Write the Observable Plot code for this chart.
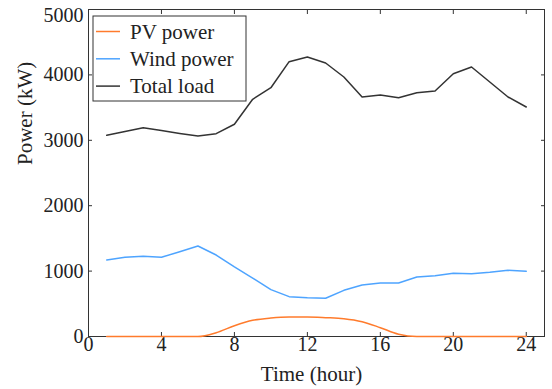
<!DOCTYPE html>
<html>
<head>
<meta charset="utf-8">
<script src="https://cdn.jsdelivr.net/npm/d3@7"></script>
<script src="https://cdn.jsdelivr.net/npm/@observablehq/plot@0.6"></script>
<style>
  body { margin: 0; background: #fff; }
  #chart { width: 552px; height: 389px; }
</style>
</head>
<body>
<div id="chart"></div>
<script>
// Hourly power profile over one day (kW)
const hours = [1, 2, 3, 4, 5, 6, 7, 8, 9, 10, 11, 12, 13, 14, 15, 16, 17, 18, 19, 20, 21, 22, 23, 24];
const pvPower = [0, 0, 0, 0, 0, 0, 58, 165, 248, 283, 298, 298, 288, 272, 226, 135, 34, 0, 0, 0, 0, 0, 0, 0];
const windPower = [1170, 1211, 1226, 1211, 1297, 1384, 1246, 1063, 894, 716, 609, 592, 584, 706, 787, 818, 818, 910, 930, 966, 960, 981, 1012, 997];
const totalLoad = [3076, 3135, 3193, 3150, 3105, 3066, 3101, 3245, 3627, 3804, 4202, 4274, 4182, 3968, 3662, 3693, 3651, 3728, 3754, 4018, 4121, 3891, 3662, 3509];

const seriesNames = ["PV power", "Wind power", "Total load"];
const seriesColors = ["#ff7b2c", "#4ea4ff", "#333333"];
const xTicks = [0, 4, 8, 12, 16, 20, 24];
const yTicks = [0, 1000, 2000, 3000, 4000, 5000];
const xLabel = "Time (hour)";
const yLabel = "Power (kW)";

const rows = (values) => hours.map((h, i) => ({hour: h, value: values[i]}));

const font = "'Liberation Serif', 'Times New Roman', Times, serif";
const margin = {left: 88, right: 8, top: 9, bottom: 53};
const axisColor = "#333";
const fmt = d3.format("d");
const yMax = d3.max(yTicks);

const plot = Plot.plot({
  width: 552,
  height: 389,
  marginLeft: margin.left,
  marginRight: margin.right,
  marginTop: margin.top,
  marginBottom: margin.bottom,
  style: {fontFamily: font, fontSize: "20px", color: "#222", background: "#fff"},
  x: {domain: [0, 25]},
  y: {domain: [0, yMax]},
  marks: [
    Plot.frame({stroke: axisColor, strokeWidth: 1}),
    Plot.axisX(xTicks, {anchor: "bottom", tickSize: -4, tickPadding: 4, label: null, stroke: axisColor}),
    Plot.axisX(xTicks, {anchor: "top", tickSize: -4, tickFormat: () => "", label: null, stroke: axisColor}),
    // inward ticks on the left; the topmost label is nudged down to stay inside the page
    Plot.axisY(yTicks, {anchor: "left", tickSize: -4, tickPadding: 9, tickFormat: (d) => d === yMax ? "" : fmt(d), label: null, stroke: axisColor}),
    Plot.axisY([yMax], {anchor: "left", tickSize: 0, tickPadding: 5, dy: 6, tickFormat: fmt, label: null}),
    Plot.axisY(yTicks, {anchor: "right", tickSize: -4, tickFormat: () => "", label: null, stroke: axisColor}),
    Plot.line(rows(pvPower), {x: "hour", y: "value", stroke: seriesColors[0], strokeWidth: 1.5, curve: "monotone-x"}),
    Plot.line(rows(windPower), {x: "hour", y: "value", stroke: seriesColors[1], strokeWidth: 1.5}),
    Plot.line(rows(totalLoad), {x: "hour", y: "value", stroke: seriesColors[2], strokeWidth: 1.5}),
    Plot.text([xLabel], {frameAnchor: "bottom", dx: -5, dy: 38, lineAnchor: "middle", fontSize: 21, fill: "#222"}),
    Plot.text([yLabel], {frameAnchor: "left", dx: -63, dy: -8, rotate: -90, lineAnchor: "middle", fontSize: 21, fill: "#222"})
  ]
});

document.getElementById("chart").appendChild(plot);

// Legend box in the upper-left corner of the plot frame
const svg = d3.select(plot);
const legend = svg.append("g")
  .attr("transform", `translate(${margin.left + 5},${margin.top + 7})`)
  .attr("font-family", font)
  .attr("font-size", 21)
  .attr("text-anchor", "start");
legend.append("rect")
  .attr("x", 0).attr("y", 0)
  .attr("width", 153).attr("height", 85)
  .attr("fill", "#fff")
  .attr("stroke", axisColor)
  .attr("stroke-width", 1);
seriesNames.forEach((name, i) => {
  const cy = 15.5 + i * 27.3;
  legend.append("line")
    .attr("x1", 3).attr("x2", 27)
    .attr("y1", cy).attr("y2", cy)
    .attr("stroke", seriesColors[i])
    .attr("stroke-width", 1.5);
  legend.append("text")
    .attr("x", 37).attr("y", cy)
    .attr("dy", "0.35em")
    .attr("fill", "#222")
    .text(name);
});
</script>
</body>
</html>
